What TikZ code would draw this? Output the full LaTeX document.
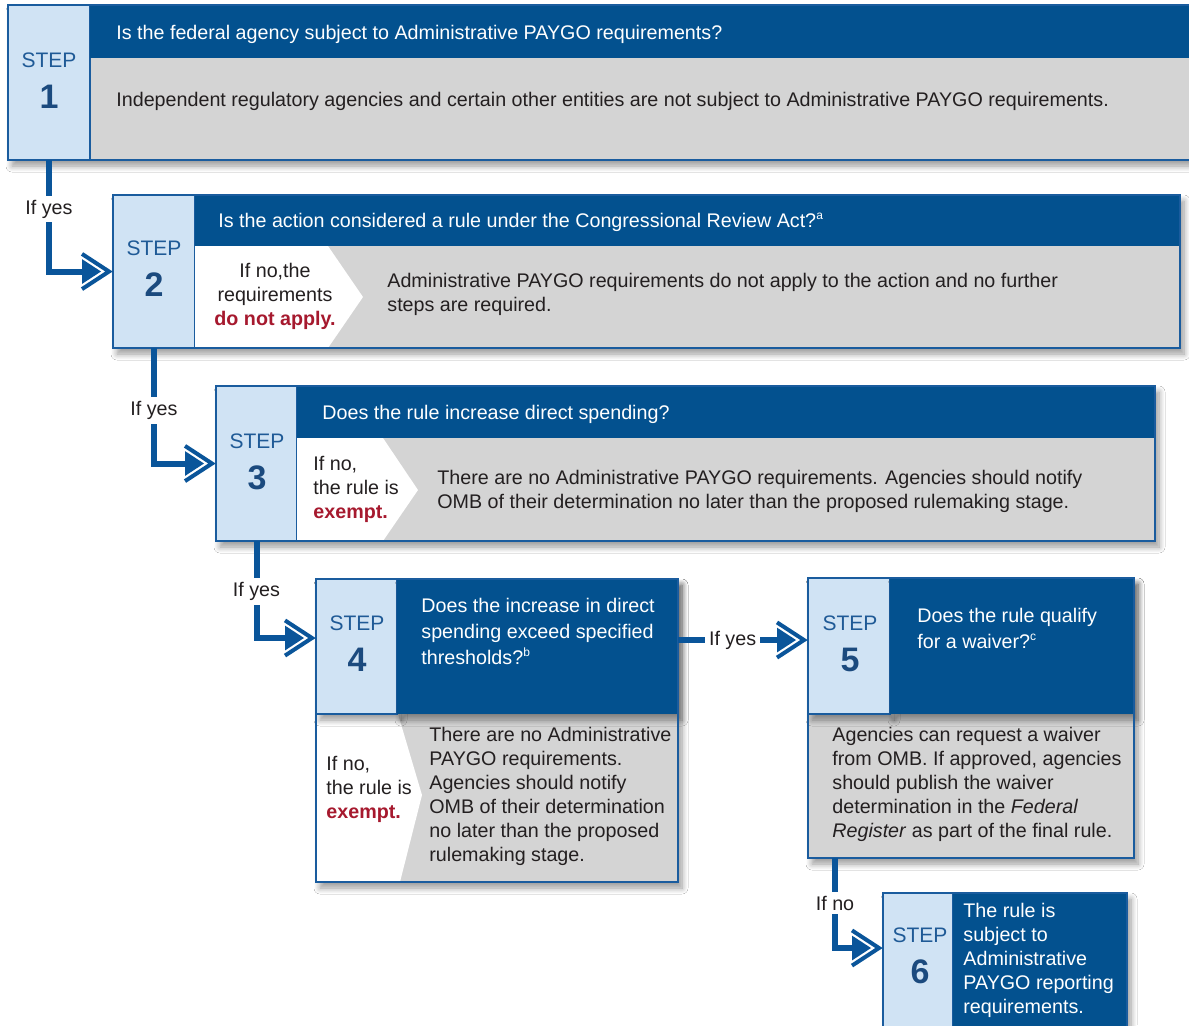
\documentclass[tikz,border=0pt]{standalone}
\usepackage{fontspec}
\setmainfont{Liberation Sans}
\usetikzlibrary{positioning,calc,shadows.blur}

\definecolor{hdrblue}{HTML}{03518F}
\definecolor{colblue}{HTML}{D0E3F4}
\definecolor{edgeblue}{HTML}{1A5C9E}
\definecolor{linkblue}{HTML}{0A559A}
\definecolor{bodygray}{HTML}{D4D4D4}
\definecolor{textdark}{HTML}{231F20}
\definecolor{lblblue}{HTML}{1F5A96}
\definecolor{numblue}{HTML}{1B4A7E}
\definecolor{alertred}{HTML}{A6192E}

\newcommand\flowfont{\fontsize{9.85}{12}\selectfont}

% filled head inside an open chevron
\pgfdeclarearrow{
  name = Chevron,
  setup code = {
    \pgfarrowssettipend{0pt}
    \pgfarrowssetbackend{-15.5pt}
    \pgfarrowssetlineend{-10pt}
  },
  drawing code = {
    \pgfpathmoveto{\pgfpoint{-6pt}{0pt}}
    \pgfpathlineto{\pgfpoint{-15.5pt}{6.2pt}}
    \pgfpathlineto{\pgfpoint{-15.5pt}{-6.2pt}}
    \pgfpathclose
    \pgfusepathqfill
    \pgfsetlinewidth{2pt}
    \pgfsetmiterjoin
    \pgfpathmoveto{\pgfpoint{-15.5pt}{8.8pt}}
    \pgfpathlineto{\pgfpoint{-2pt}{0pt}}
    \pgfpathlineto{\pgfpoint{-15.5pt}{-8.8pt}}
    \pgfusepathqstroke
  },
}

\begin{document}
\begin{tikzpicture}[
    x=0.5pt, y=-0.5pt,
    frame/.style={rectangle, fill=bodygray, anchor=north west, inner sep=0pt, outer sep=0pt,
      blur shadow={shadow xshift=2pt, shadow yshift=-3pt, shadow blur steps=8, shadow blur radius=3pt, shadow opacity=40}},
    stepcol/.style={rectangle, fill=colblue, draw=edgeblue, line width=0.6pt, anchor=north west, inner sep=0pt, outer sep=0pt},
    hdr/.style={rectangle, fill=hdrblue, anchor=north west, inner sep=0pt, outer sep=0pt},
    lift/.style={blur shadow={shadow xshift=2pt, shadow yshift=-3pt, shadow blur steps=8, shadow blur radius=3pt, shadow opacity=40}},
    edge/.style={draw=edgeblue, line width=1.2pt},
    steptxt/.style={font=\fontsize{10.5}{12}\selectfont, text=lblblue, inner sep=0pt},
    stepnum/.style={font=\fontsize{17}{18}\selectfont\bfseries, text=numblue, inner sep=0pt},
    qtxt/.style={font=\flowfont, text=white, anchor=west, align=left, inner sep=0pt},
    btxt/.style={font=\flowfont, text=textdark, anchor=west, align=left, inner sep=0pt},
    link/.style={color=linkblue, line width=3pt, -{Chevron}},
    lbl/.style={fill=white, text=textdark, font=\flowfont, inner sep=2pt}
]
\useasboundingbox (0,0) rectangle (1189,1025);
\fill[white] (0,0) rectangle (1189,1025);

% step 1
\node[frame, minimum width=592pt, minimum height=77.5pt] (s1) at (8,5) {};
\node[stepcol, minimum width=41pt, minimum height=77.5pt] (s1c) at (8,5) {};
\node[hdr, minimum width=551pt, minimum height=26.5pt] (s1h) at (s1c.north east) {};
\node[qtxt] (s1q) at (116,34) {Is the federal agency subject to Administrative PAYGO requirements?};
\node[btxt] (s1b) at (116,101) {Independent regulatory agencies and certain other entities are not subject to Administrative PAYGO requirements.};
\node[steptxt] (s1l) at (49,60) {STEP};
\node[stepnum] (s1n) at (49,97) {1};

% step 2
\node[frame, minimum width=533.5pt, minimum height=76.5pt] (s2) at (113,195) {};
\node[stepcol, minimum width=41pt, minimum height=76.5pt] (s2c) at (113,195) {};
\node[hdr, minimum width=492.5pt, minimum height=25.5pt] (s2h) at (s2c.north east) {};
\fill[white] (s2h.south west) -- (328,246) -- (363,297) -- (328,348) -- (s2c.south east) -- cycle;
\node[qtxt] (s2q) at (218,222) {Is the action considered a rule under the Congressional Review Act?\textsuperscript{\fontsize{6}{6}\selectfont a}};
\node[btxt, align=center, anchor=center] (s2n) at (275,296) {If no,the\\requirements\\\textcolor{alertred}{\textbf{do not apply.}}};
\node[btxt] (s2b) at (387,294) {Administrative PAYGO requirements do not apply to the action and no further\\steps are required.};
\node[steptxt] (s2l) at (154,248) {STEP};
\node[stepnum] (s2m) at (154,285) {2};

% step 3
\node[frame, minimum width=469.5pt, minimum height=77.5pt] (s3) at (216,386) {};
\node[stepcol, minimum width=40.5pt, minimum height=77.5pt] (s3c) at (216,386) {};
\node[hdr, minimum width=429pt, minimum height=26pt] (s3h) at (s3c.north east) {};
\fill[white] (s3h.south west) -- (383,438) -- (418,490) -- (383,541) -- (s3c.south east) -- cycle;
\node[qtxt] (s3q) at (322,414) {Does the rule increase direct spending?};
\node[btxt] (s3n) at (313,489) {If no,\\the rule is\\\textcolor{alertred}{\textbf{exempt.}}};
\node[btxt] (s3b) at (437,491) {There are no Administrative PAYGO requirements. Agencies should notify\\OMB of their determination no later than the proposed rulemaking stage.};
\node[steptxt] (s3l) at (257,441) {STEP};
\node[stepnum] (s3m) at (257,478) {3};

% step 4
\node[frame, minimum width=181pt, minimum height=151.5pt] (s4) at (316,579) {};
\fill[white] (316,714) -- (398,714) -- (422,795) -- (400,882) -- (316,882) -- cycle;
\node[stepcol, lift, minimum width=40.5pt, minimum height=67.5pt] (s4c) at (316,579) {};
\node[hdr, lift, minimum width=140.5pt, minimum height=67.5pt] (s4h) at (s4c.north east) {};
\node[qtxt, font=\fontsize{9.85}{13}\selectfont] (s4q) at (421,631) {Does the increase in direct\\spending exceed specified\\thresholds?\textsuperscript{\fontsize{6}{6}\selectfont b}};
\node[btxt] (s4n) at (326,789) {If no,\\the rule is\\\textcolor{alertred}{\textbf{exempt.}}};
\node[btxt] (s4b) at (429,796) {There are no Administrative\\PAYGO requirements.\\Agencies should notify\\OMB of their determination\\no later than the proposed\\rulemaking stage.};
\node[steptxt] (s4l) at (357,623) {STEP};
\node[stepnum] (s4m) at (357,660) {4};

% step 5
\node[frame, minimum width=163pt, minimum height=140pt] (s5) at (808,578) {};
\node[stepcol, lift, minimum width=41pt, minimum height=68pt] (s5c) at (808,578) {};
\node[hdr, lift, minimum width=122pt, minimum height=68pt] (s5h) at (s5c.north east) {};
\node[qtxt, font=\fontsize{9.85}{13}\selectfont] (s5q) at (917,628) {Does the rule qualify\\for a waiver?\textsuperscript{\fontsize{6}{6}\selectfont c}};
\node[btxt] (s5b) at (832,784) {Agencies can request a waiver\\from OMB. If approved, agencies\\should publish the waiver\\determination in the \textit{Federal}\\\textit{Register} as part of the final rule.};
\node[steptxt] (s5l) at (850,623) {STEP};
\node[stepnum] (s5m) at (850,660) {5};

% step 6
\node[frame, minimum width=122pt, minimum height=70pt] (s6) at (883,893) {};
\node[stepcol, minimum width=35pt, minimum height=70pt] (s6c) at (883,893) {};
\node[hdr, minimum width=87pt, minimum height=70pt] (s6h) at (s6c.north east) {};
\node[qtxt] (s6q) at (963,960) {The rule is\\subject to\\Administrative\\PAYGO reporting\\requirements.};
\node[steptxt] (s6l) at (920,935) {STEP};
\node[stepnum] (s6m) at (920,972) {6};

% outlines
\draw[edge] (s1.north west) rectangle (s1.south east);
\draw[edge] (s2.north west) rectangle (s2.south east);
\draw[edge] (s3.north west) rectangle (s3.south east);
\draw[edge] (s4.north west) rectangle (s4.south east);
\draw[edge] (s5.north west) rectangle (s5.south east);
\draw[edge] (s6.north west) rectangle (s6.south east);

% connectors
\draw[link] (s1c.south) |- node[lbl, pos=0.22] (y1) {If yes} (s2c.west);
\draw[link] (s2c.south) |- node[lbl, pos=0.27] (y2) {If yes} (s3c.west);
\draw[link] (s3c.south) |- node[lbl, pos=0.26] (y3) {If yes} ([yshift=4.25pt]s4c.west);
\draw[link] ([yshift=3.25pt]s4h.east) -- node[lbl, pos=0.42] (y4) {If yes} ([yshift=3.25pt]s4h.east -| s5c.west);
\draw[link] ([xshift=13.5pt]s5.south west) |- node[lbl, pos=0.25] (n5) {If no} ([yshift=7.5pt]s6c.west);
\end{tikzpicture}
\end{document}
